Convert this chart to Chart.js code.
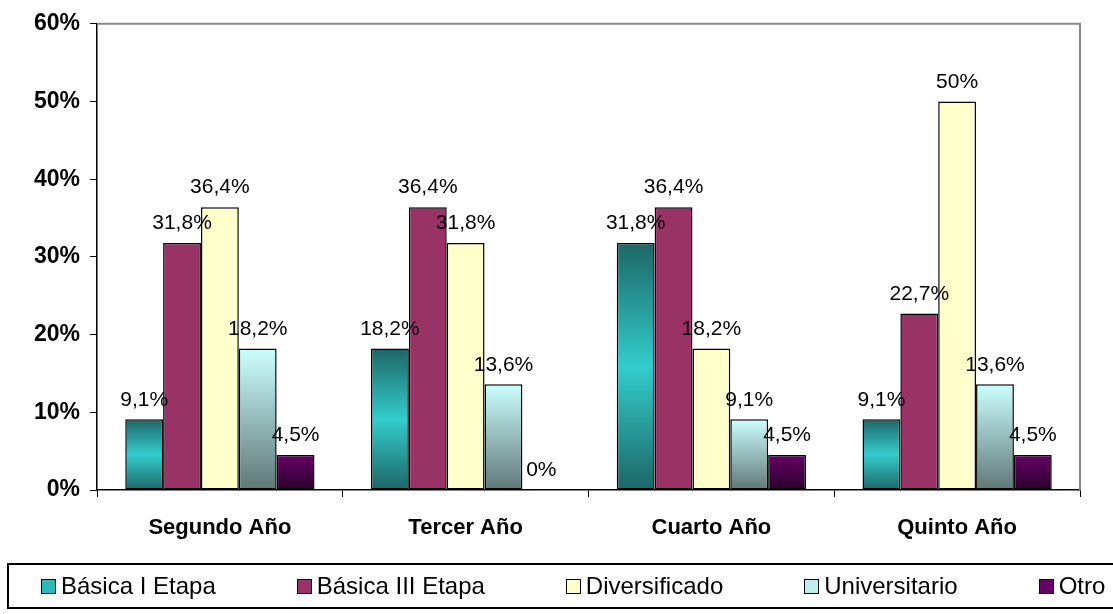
<!DOCTYPE html>
<html>
<head>
<meta charset="utf-8">
<script src="https://cdn.jsdelivr.net/npm/chart.js@4"></script>
<style>
  body { margin: 0; background: #fff; overflow: hidden; font-family: "Liberation Sans", Arial, sans-serif; }
  #wrap { position: relative; width: 1113px; height: 614px; }
  #legend {
    position: absolute; left: 7px; top: 563px; width: 1200px; height: 46px;
    border: 2px solid #000; box-sizing: border-box;
    display: flex; align-items: center; padding-left: 32px;
  }
  .item { display: flex; align-items: center; margin-right: 81px; font-size: 24px; color: #000; white-space: nowrap; }
  .swatch { width: 13px; height: 13px; border: 1px solid #000; margin-right: 5px; }
</style>
</head>
<body>
<div id="wrap">
  <canvas id="chart" width="1113" height="614"></canvas>
  <div id="legend"></div>
</div>
<script>
// Datos del gráfico
const categorias = ['Segundo Año', 'Tercer Año', 'Cuarto Año', 'Quinto Año'];
const basicaI = [9.1, 18.2, 31.8, 9.1];
const basicaIII = [31.8, 36.4, 36.4, 22.7];
const diversificado = [36.4, 31.8, 18.2, 50];
const universitario = [18.2, 13.6, 9.1, 13.6];
const otro = [4.5, 0, 4.5, 4.5];
const series = ['Básica I Etapa', 'Básica III Etapa', 'Diversificado', 'Universitario', 'Otro'];
const ticksY = [0, 10, 20, 30, 40, 50, 60];

// Degradados por barra (como en Excel)
const gradiente = (paradas, solido) => (ctx) => {
    const chart = ctx.chart;
    const y = chart.scales && chart.scales.y;
    if (!chart.chartArea || !y || ctx.raw === undefined) return solido;
    const top = y.getPixelForValue(ctx.raw);
    const bottom = y.getPixelForValue(0);
    if (Math.abs(bottom - top) < 1) return solido;
    const g = chart.ctx.createLinearGradient(0, top, 0, bottom);
    paradas.forEach(([pos, col]) => g.addColorStop(pos, col));
    return g;
};

const colores = [
    { fill: gradiente([[0, '#1d6666'], [0.5, '#33cccc'], [1, '#1d6666']], '#2a9999'), swatch: '#2fb8b8' },
    { fill: '#993366', swatch: '#993366' },
    { fill: '#ffffcc', swatch: '#ffffcc' },
    { fill: gradiente([[0, '#ccffff'], [1, '#5f7777']], '#a0c4c4'), swatch: '#bfeeee' },
    { fill: gradiente([[0, '#660066'], [1, '#2a002a']], '#4a004a'), swatch: '#660066' }
];

const valores = [basicaI, basicaIII, diversificado, universitario, otro];

const formatPct = (v) => String(v).replace('.', ',') + '%';

// Etiquetas de datos encima de cada barra
const etiquetas = {
    id: 'etiquetas',
    afterDatasetsDraw(chart) {
        const ctx = chart.ctx;
        ctx.save();
        ctx.font = '21px "Liberation Sans", Arial, sans-serif';
        ctx.fillStyle = '#000';
        ctx.textAlign = 'center';
        ctx.textBaseline = 'bottom';
        chart.data.datasets.forEach((ds, i) => {
            chart.getDatasetMeta(i).data.forEach((bar, j) => {
                ctx.fillText(formatPct(ds.data[j]), bar.x, bar.y - 9);
            });
        });
        ctx.restore();
    }
};

// Borde gris superior y derecho del área de trazado
const marco = {
    id: 'marco',
    beforeDatasetsDraw(chart) {
        const a = chart.chartArea;
        const ctx = chart.ctx;
        ctx.save();
        ctx.strokeStyle = '#888';
        ctx.lineWidth = 2;
        ctx.beginPath();
        ctx.moveTo(a.left, a.top);
        ctx.lineTo(a.right, a.top);
        ctx.lineTo(a.right, a.bottom);
        ctx.stroke();
        ctx.restore();
    }
};

const ctx = document.getElementById('chart').getContext('2d');
new Chart(ctx, {
    type: 'bar',
    data: {
        labels: categorias,
        datasets: series.map((nombre, i) => ({
            label: nombre,
            data: valores[i],
            backgroundColor: colores[i].fill,
            borderColor: '#000',
            borderWidth: 1.5,
            borderSkipped: false,
            categoryPercentage: 0.77,
            barPercentage: 1
        }))
    },
    options: {
        responsive: false,
        animation: false,
        layout: { padding: { top: 23, right: 33, bottom: 64, left: 0 } },
        plugins: {
            legend: { display: false },
            tooltip: { enabled: false }
        },
        scales: {
            x: {
                afterFit: (s) => { s.height = 60; },
                border: { color: '#000', width: 1.5 },
                grid: { display: true, drawOnChartArea: false, drawTicks: true, tickLength: 7, color: '#000', offset: true },
                ticks: {
                    color: '#000',
                    padding: 18,
                    font: { family: '"Liberation Sans", Arial, sans-serif', size: 22, weight: 'bold' }
                }
            },
            y: {
                min: ticksY[0],
                max: ticksY[ticksY.length - 1],
                afterFit: (s) => { s.width = 97; },
                afterBuildTicks: (s) => { s.ticks = ticksY.map(v => ({ value: v })); },
                border: { color: '#000', width: 1.5 },
                grid: { display: true, drawOnChartArea: false, drawTicks: true, tickLength: 7, color: '#000' },
                ticks: {
                    color: '#000',
                    padding: 10,
                    callback: (v) => v + '%',
                    font: { family: '"Liberation Sans", Arial, sans-serif', size: 23, weight: 'bold' }
                }
            }
        }
    },
    plugins: [etiquetas, marco]
});

// Leyenda HTML generada a partir de las series
document.getElementById('legend').innerHTML = series.map((nombre, i) => `
    <div class="item"><span class="swatch" style="background:${colores[i].swatch}"></span>${nombre}</div>
`).join('');
</script>
</body>
</html>
